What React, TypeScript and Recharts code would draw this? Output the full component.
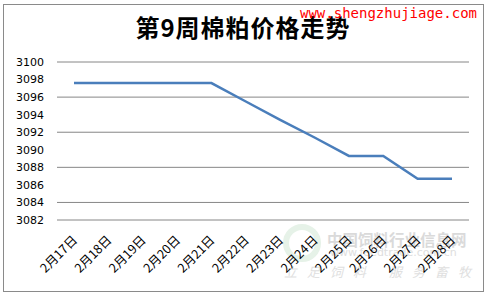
import { LineChart, Line, XAxis, YAxis, CartesianGrid } from 'recharts';

const dates = ['2月17日', '2月18日', '2月19日', '2月20日', '2月21日', '2月22日', '2月23日', '2月24日', '2月25日', '2月26日', '2月27日', '2月28日'];
const prices = [3097.6, 3097.6, 3097.6, 3097.6, 3097.6, 3095.5, 3093.4, 3091.4, 3089.3, 3089.3, 3086.7, 3086.7];
const yTicks = [3082, 3084, 3086, 3088, 3090, 3092, 3094, 3096, 3098, 3100];

const data = dates.map((d, i) => ({ date: d, price: prices[i] }));

const FONT = '"Noto Sans CJK SC", "DejaVu Sans", sans-serif';

function DateTick({ x, y, payload }: any) {
  return (
    <text
      x={x + 4}
      y={y + 13}
      transform={`rotate(-45, ${x + 4}, ${y + 13})`}
      textAnchor="end"
      fontSize={12.5}
      fontFamily={FONT}
      fill="#000"
    >
      {payload.value}
    </text>
  );
}

export default function App() {
  return (
    <div style={{ position: 'absolute', left: 0, top: 0, width: 486, height: 296, background: '#fff' }}>
      <div style={{ position: 'absolute', left: 3, top: 4, width: 479, height: 286, border: '1px solid #8a8a8a' }} />
      {/* faint site watermark, bottom right */}
      <div style={{ position: 'absolute', left: 283, top: 224, width: 38, height: 38, borderRadius: '50%', border: '6px solid #e6f2e8', boxSizing: 'border-box' }} />
      <div style={{ position: 'absolute', left: 327, top: 230, fontFamily: FONT, fontWeight: 700, fontSize: 15.5, color: '#dadada', lineHeight: '18px' }}>
        中国饲料行业信息网
      </div>
      <div style={{ position: 'absolute', left: 330, top: 246, fontFamily: '"DejaVu Sans", sans-serif', fontSize: 11, color: '#dedede', lineHeight: '13px' }}>
        www.feedtrade.com.cn
      </div>
      <div style={{ position: 'absolute', left: 284, top: 264, fontFamily: FONT, fontSize: 13, color: '#e0e0e0', lineHeight: '16px', letterSpacing: 10, fontStyle: 'italic' }}>
        立足饲料 服务畜牧
      </div>
      <div style={{ position: 'absolute', left: 0, top: 11, width: 486, textAlign: 'center', fontFamily: FONT, fontWeight: 700, fontSize: 24, letterSpacing: 1, color: '#000', lineHeight: '32px' }}>
        第9周棉粕价格走势
      </div>
      <div style={{ position: 'absolute', left: 300, top: 3, fontFamily: '"DejaVu Sans Mono", monospace', fontSize: 14, color: '#ff0000', lineHeight: '20px' }}>
        www.shengzhujiage.com
      </div>
      <LineChart
        width={486}
        height={296}
        data={data}
        margin={{ top: 62, right: 17, bottom: 0, left: 0 }}
        style={{ position: 'absolute', left: 0, top: 0 }}
      >
        <CartesianGrid vertical={false} stroke="#868686" strokeWidth={1} />
        <XAxis
          dataKey="date"
          height={76}
          axisLine={false}
          tickLine={false}
          interval={0}
          padding={{ left: 17, right: 17 }}
          tick={<DateTick />}
        />
        <YAxis
          width={57}
          domain={[3082, 3100]}
          ticks={yTicks}
          axisLine={false}
          tickLine={false}
          tickSize={0}
          tickMargin={13}
          tick={{ fontSize: 11, fill: '#000', fontFamily: '"DejaVu Sans", sans-serif' }}
        />
        <Line
          type="linear"
          dataKey="price"
          stroke="#4a7ebb"
          strokeWidth={2.5}
          dot={false}
          isAnimationActive={false}
        />
      </LineChart>
    </div>
  );
}
